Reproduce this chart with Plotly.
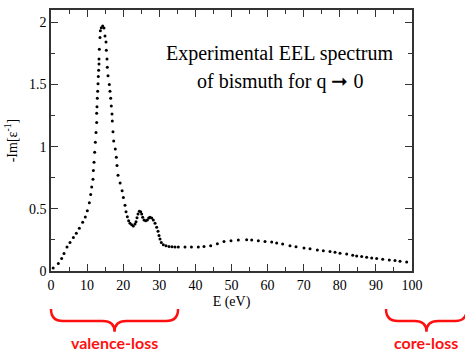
import plotly.graph_objects as go

# Energy loss E (eV) and -Im[1/eps]
energy = [0.6, 2.03, 2.95, 3.60, 4.43, 5.26, 6.19, 7.02, 7.85, 8.77, 9.51, 10.06,
          10.62, 10.99, 11.27, 11.63, 11.73, 11.91, 12.10, 12.28, 12.47, 12.65, 12.65,
          12.74, 12.83, 12.93, 13.02, 13.11, 13.20, 13.30, 13.30, 13.39, 13.57, 13.67,
          13.94, 14.31, 14.68, 14.96, 15.24, 15.33, 15.51, 15.60, 15.79, 16.16, 16.34,
          16.53, 16.71, 16.90, 16.99, 17.17, 17.36, 17.82, 18.10, 18.28, 18.56, 19.15,
          19.70, 20.05, 20.50, 20.78, 21.15, 21.51, 21.88, 22.35, 22.81, 23.27,
          23.55, 23.82, 24.10, 24.47, 24.84, 25.12, 25.39, 25.76, 26.22, 26.69, 27.06,
          27.42, 27.89, 28.35, 28.81, 29.27, 29.64, 29.92, 30.19, 30.56, 31.12, 31.86,
          32.69, 33.52, 34.35, 35.27, 37.12, 38.9, 40.8, 42.38, 44.23, 46.08, 47.92,
          49.86, 51.89, 54.20, 55.59, 57.43, 59.28, 61.13, 62.51, 64.17, 66.20, 67.87,
          70.08, 71.75, 73.78, 75.44, 77.29, 78.67, 80.06, 81.90, 83.57, 84.67, 86.06,
          87.44, 88.83, 90.21, 91.88, 93.72, 95.29, 96.68, 98.52]
loss = [0.025, 0.060, 0.100, 0.140, 0.193, 0.230, 0.270, 0.304, 0.344, 0.392, 0.435, 0.485,
        0.549, 0.615, 0.676, 0.738, 0.809, 0.876, 0.956, 1.035, 1.115, 1.195, 1.269,
        1.322, 1.389, 1.447, 1.506, 1.564, 1.615, 1.665, 1.705, 1.785, 1.878, 1.934,
        1.958, 1.971, 1.955, 1.891, 1.843, 1.777, 1.705, 1.639, 1.570, 1.500, 1.447,
        1.389, 1.328, 1.264, 1.206, 1.120, 1.046, 0.982, 0.916, 0.849, 0.770, 0.708,
        0.645, 0.591, 0.530, 0.477, 0.437, 0.405, 0.384, 0.373, 0.363, 0.379,
        0.397, 0.429, 0.459, 0.480, 0.477, 0.459, 0.432, 0.411, 0.405, 0.411, 0.427,
        0.432, 0.427, 0.411, 0.384, 0.352, 0.320, 0.286, 0.257, 0.230, 0.211, 0.203,
        0.198, 0.195, 0.193, 0.193, 0.193, 0.193, 0.193, 0.198, 0.203, 0.219, 0.238,
        0.243, 0.249, 0.251, 0.249, 0.243, 0.238, 0.233, 0.225, 0.217, 0.203, 0.195,
        0.185, 0.179, 0.169, 0.163, 0.156, 0.150, 0.142, 0.137, 0.126, 0.121, 0.116,
        0.110, 0.105, 0.100, 0.094, 0.089, 0.084, 0.078, 0.073]

x_ticks = [0, 10, 20, 30, 40, 50, 60, 70, 80, 90, 100]
y_ticks = [0, 0.5, 1, 1.5, 2]
y_tick_text = ["0", "0.5", "1", "1.5", "2"]

x_range = [0, 100]
# energy spans marked by the red braces (E, eV)
valence_range = [0, 35.2]
core_range = [92.8, 115.2]

fig = go.Figure()
fig.add_trace(go.Scatter(x=energy, y=loss, mode="markers",
                         marker=dict(color="black", size=3, line=dict(width=0)),
                         showlegend=False, hoverinfo="skip"))

serif = "Liberation Serif"
axis_common = dict(showline=True, linecolor="#333", linewidth=1.5, mirror="allticks",
                   ticks="inside", tickcolor="#333", tickwidth=1.2, showgrid=False,
                   zeroline=False, tickfont=dict(family=serif, size=14, color="black"))

fig.update_xaxes(range=x_range, tickvals=x_ticks, ticklen=7,
                 minor=dict(dtick=5, ticks="inside", ticklen=4, tickcolor="#333", tickwidth=1.2),
                 title=dict(text="E (eV)", font=dict(family=serif, size=14, color="black"), standoff=5),
                 **axis_common)
fig.update_yaxes(range=[0, 2.1], tickvals=y_ticks, ticktext=y_tick_text, ticklen=7,
                 minor=dict(dtick=0.25, ticks="inside", ticklen=4, tickcolor="#333", tickwidth=1.2),
                 title=dict(text="-Im[ε<sup>-1</sup>]", font=dict(family=serif, size=14, color="black"), standoff=8),
                 **axis_common)


def to_paper(e):
    return (e - x_range[0]) / (x_range[1] - x_range[0])


def brace(e0, e1):
    x0, x1 = to_paper(e0), to_paper(e1)
    xc = (x0 + x1) / 2
    d = 0.033
    yt, ym, yb = -0.146, -0.192, -0.233
    return (f"M {x0},{yt} Q {x0},{ym} {x0 + d},{ym} L {xc - d},{ym} "
            f"Q {xc},{ym} {xc},{yb} Q {xc},{ym} {xc + d},{ym} "
            f"L {x1 - d},{ym} Q {x1},{ym} {x1},{yt}")


red = "#ff1010"
for rng, label in ((valence_range, "valence-loss"), (core_range, "core-loss")):
    fig.add_shape(type="path", xref="paper", yref="paper", path=brace(rng[0], rng[1]),
                  line=dict(color=red, width=2.5), layer="above")
    xc = to_paper((rng[0] + rng[1]) / 2)
    fig.add_annotation(x=xc, y=-0.275, xref="paper", yref="paper", text=label,
                       xanchor="center", yanchor="middle", showarrow=False,
                       font=dict(family="Lato", size=16, color=red, weight="bold"))

fig.add_annotation(x=0.634, y=0.833, xref="paper", yref="paper", text="Experimental EEL spectrum",
                   xanchor="center", yanchor="middle", showarrow=False,
                   font=dict(family=serif, size=20, color="black"))
fig.add_annotation(x=0.634, y=0.727, xref="paper", yref="paper", text="of bismuth for q ➞ 0",
                   xanchor="center", yanchor="middle", showarrow=False,
                   font=dict(family=serif, size=20, color="black"))

fig.update_layout(width=465, height=355, margin=dict(l=51, r=53, t=8, b=83.5),
                  plot_bgcolor="white", paper_bgcolor="white")

fig.write_html("out.html")
